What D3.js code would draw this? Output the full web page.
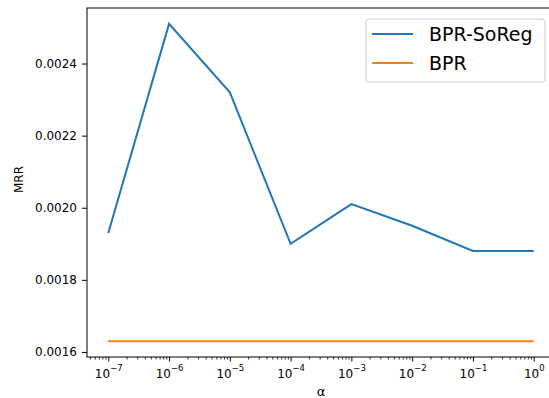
<!DOCTYPE html>
<html>
<head>
<meta charset="utf-8">
<script src="https://cdn.jsdelivr.net/npm/d3@7"></script>
<style>
  body { margin: 0; background: #fff; }
  svg, svg text { font-family: "DejaVu Sans", sans-serif; }
</style>
</head>
<body>
<div id="chart"></div>
<script>
// values
const alphas = [1e-7, 1e-6, 1e-5, 1e-4, 1e-3, 1e-2, 1e-1, 1e0];
const soregMRR = [0.00193, 0.00251, 0.00232, 0.00190, 0.00201, 0.00195, 0.00188, 0.00188];
const bprMRR = [0.00163, 0.00163, 0.00163, 0.00163, 0.00163, 0.00163, 0.00163, 0.00163];
const yTicks = [0.0016, 0.0018, 0.0020, 0.0022, 0.0024];
const seriesNames = ['BPR-SoReg', 'BPR'];
const seriesColors = ['#1f77b4', '#ff7f0e'];

const W = 549, H = 398;
const margin = { top: 8, left: 87, bottom: 41 };
const plotRight = 555; // right spine falls just off the picture
const height = H - margin.top - margin.bottom;
const font = 'DejaVu Sans';

const svg = d3.select('#chart').append('svg')
  .attr('width', W).attr('height', H);

// matplotlib-like 5% padding
const lx = d3.extent(alphas, (d) => Math.log10(d));
const padX = (lx[1] - lx[0]) * 0.05;
const ey = d3.extent(soregMRR.concat(bprMRR));
const padY = (ey[1] - ey[0]) * 0.05;

const x = d3.scaleLog()
  .domain([Math.pow(10, lx[0] - padX), Math.pow(10, lx[1] + padX)])
  .range([margin.left, plotRight]);

const y = d3.scaleLinear()
  .domain([ey[0] - padY, ey[1] + padY])
  .range([margin.top + height, margin.top]);

const g = svg.append('g');

// minor ticks
const minor = [];
for (let e = -8; e <= 0; e++) {
  for (let m = 2; m <= 9; m++) {
    const v = m * Math.pow(10, e);
    if (v >= x.domain()[0] && v <= x.domain()[1]) minor.push(v);
  }
}

g.append('g')
  .attr('transform', `translate(0,${margin.top + height})`)
  .call(d3.axisBottom(x).tickValues(minor).tickSize(2.5).tickFormat(''))
  .call((s) => s.select('.domain').remove())
  .call((s) => s.selectAll('line').attr('stroke', '#000').attr('stroke-width', 0.8));

const xAxis = g.append('g')
  .attr('transform', `translate(0,${margin.top + height})`)
  .call(d3.axisBottom(x).tickValues(alphas).tickSize(4.5).tickFormat(''))
  .attr('font-family', font).attr('font-size', 12);
xAxis.select('.domain').remove();
xAxis.selectAll('line').attr('stroke', '#000').attr('stroke-width', 1);

xAxis.selectAll('.tick').append('text')
  .attr('y', 20.5)
  .attr('fill', '#000')
  .attr('text-anchor', 'middle')
  .attr('font-family', font)
  .attr('font-size', 12)
  .each(function (d) {
    const t = d3.select(this);
    const e = Math.round(Math.log10(d));
    t.append('tspan').text('10');
    t.append('tspan')
      .attr('dy', -7)
      .attr('font-size', 8.5)
      .text(e < 0 ? '\u2212' + (-e) : String(e));
  });

const yAxis = g.append('g')
  .attr('transform', `translate(${margin.left},0)`)
  .call(d3.axisLeft(y).tickValues(yTicks).tickSize(5).tickPadding(5).tickFormat(d3.format('.4f')))
  .attr('font-family', font).attr('font-size', 12);
yAxis.select('.domain').remove();
yAxis.selectAll('line').attr('stroke', '#000').attr('stroke-width', 1);
yAxis.selectAll('text').attr('fill', '#000');

// lines
const line = d3.line()
  .x((d, i) => x(alphas[i]))
  .y((d) => y(d));

[soregMRR, bprMRR].forEach((vals, i) => {
  g.append('path')
    .datum(vals)
    .attr('fill', 'none')
    .attr('stroke', seriesColors[i])
    .attr('stroke-width', 2)
    .attr('d', line);
});

// spines
g.append('rect')
  .attr('x', margin.left).attr('y', margin.top)
  .attr('width', plotRight - margin.left).attr('height', height)
  .attr('fill', 'none').attr('stroke', '#000').attr('stroke-width', 1);

// axis labels
svg.append('text')
  .attr('x', 321)
  .attr('y', 396)
  .attr('text-anchor', 'middle')
  .attr('font-family', font)
  .attr('font-size', 13)
  .text('\u03b1');

svg.append('text')
  .attr('transform', `translate(23,${margin.top + height / 2 - 3}) rotate(-90)`)
  .attr('text-anchor', 'middle')
  .attr('font-family', font)
  .attr('font-size', 12)
  .text('MRR');

// legend
const lg = svg.append('g').attr('transform', 'translate(366,19)');
lg.append('rect')
  .attr('width', 179).attr('height', 63)
  .attr('rx', 3)
  .attr('fill', '#fff').attr('fill-opacity', 0.8)
  .attr('stroke', '#ccc').attr('stroke-width', 1);

seriesNames.forEach((name, i) => {
  const row = lg.append('g').attr('transform', `translate(0,${15 + i * 29})`);
  row.append('line')
    .attr('x1', 6).attr('x2', 47)
    .attr('stroke', seriesColors[i]).attr('stroke-width', 2);
  row.append('text')
    .attr('x', 63).attr('y', 7)
    .attr('font-family', font)
    .attr('font-size', 19)
    .text(name);
});
</script>
</body>
</html>
